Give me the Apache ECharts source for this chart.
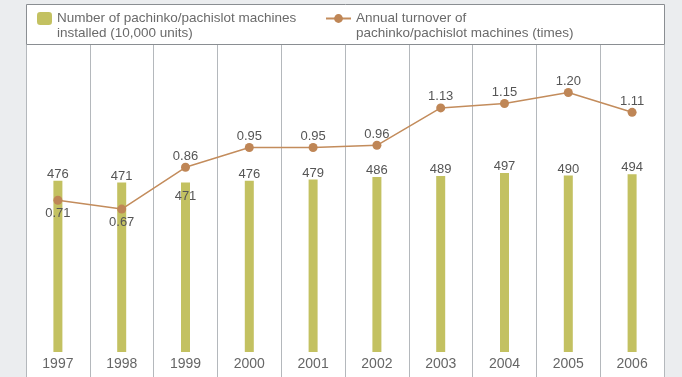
<!DOCTYPE html>
<html>
<head>
<meta charset="utf-8">
<script src="https://cdn.jsdelivr.net/npm/echarts@6/dist/echarts.min.js"></script>
<style>
  html, body { margin: 0; padding: 0; background: #ebedef; }
  #chart { width: 682px; height: 377px; }
</style>
</head>
<body>
<div id="chart"></div>
<script>
// Pachinko/pachislot machines installed vs. annual turnover, 1997–2006
const years = ['1997', '1998', '1999', '2000', '2001', '2002', '2003', '2004', '2005', '2006'];
const machinesInstalled = [476, 471, 471, 476, 479, 486, 489, 497, 490, 494];
const annualTurnover = [0.71, 0.67, 0.86, 0.95, 0.95, 0.96, 1.13, 1.15, 1.20, 1.11];

const barName = 'Number of pachinko/pachislot machines\ninstalled (10,000 units)';
const lineName = 'Annual turnover of\npachinko/pachislot machines (times)';

// Label placement: the 1999 bar label sits inside the bar, the first two turnover labels go below the point
const barLabelInside = ['1999'];
const lineLabelBelow = ['1997', '1998'];

const FONT = '"Liberation Sans", Arial, sans-serif';
const legendText = {
  color: '#6a6a6a', fontSize: 13.5, fontFamily: FONT, lineHeight: 15
};
// A leading blank line keeps the legend icon level with the first text line
const legendFormatter = name => '\n' + name;

const chart = echarts.init(document.getElementById('chart'), null, { renderer: 'canvas' });

chart.setOption({
  backgroundColor: '#ebedef',
  animation: false,
  graphic: [
    {
      type: 'rect', z: -10, silent: true,
      shape: { x: 26.5, y: 4.5, width: 638, height: 380 },
      style: { fill: '#ffffff', stroke: '#8a8e92', lineWidth: 1 }
    },
    {
      type: 'line', z: 10, silent: true,
      shape: { x1: 26.5, y1: 44.5, x2: 664.5, y2: 44.5 },
      style: { stroke: '#8a8e92', lineWidth: 1 }
    }
  ],
  legend: [
    {
      data: [barName], left: 37, top: -4, padding: 0,
      itemWidth: 15, itemHeight: 13, textStyle: legendText,
      formatter: legendFormatter
    },
    {
      data: [lineName], left: 325, top: -4, padding: 0,
      itemWidth: 25, itemHeight: 11, textStyle: legendText,
      formatter: legendFormatter
    }
  ],
  grid: { left: 26, right: 18, top: 44, bottom: 0 },
  xAxis: {
    type: 'category',
    data: years,
    boundaryGap: true,
    axisLine: { show: false },
    axisTick: { show: false },
    axisLabel: {
      inside: true, margin: 6,
      color: '#666666', fontSize: 14, fontFamily: FONT
    },
    splitLine: { show: true, lineStyle: { color: '#b4b8bc', width: 1 } }
  },
  yAxis: [
    { type: 'value', min: -69.4, max: 855.6, show: false, splitLine: { show: false } },
    { type: 'value', min: -0.0932, max: 1.4205, show: false, splitLine: { show: false } }
  ],
  series: [
    {
      name: barName,
      type: 'bar',
      yAxisIndex: 0,
      barWidth: 9,
      itemStyle: { color: '#c3c161' },
      data: machinesInstalled.map((v, i) => ({
        value: v,
        label: barLabelInside.includes(years[i])
          ? { position: 'insideTop', distance: 7 }
          : { position: 'top', distance: 0 }
      })),
      label: {
        show: true, color: '#555555', fontSize: 13, fontFamily: FONT
      }
    },
    {
      name: lineName,
      type: 'line',
      yAxisIndex: 1,
      symbol: 'circle',
      symbolSize: 9,
      lineStyle: { color: '#c38c5c', width: 1.5 },
      itemStyle: { color: '#bf8656' },
      data: annualTurnover.map((v, i) => ({
        value: v,
        label: lineLabelBelow.includes(years[i])
          ? { position: 'bottom', distance: 2.5 }
          : { position: 'top', distance: 0 }
      })),
      label: {
        show: true, color: '#555555', fontSize: 13, fontFamily: FONT,
        formatter: p => p.value.toFixed(2)
      },
      z: 5
    }
  ]
});
</script>
</body>
</html>
